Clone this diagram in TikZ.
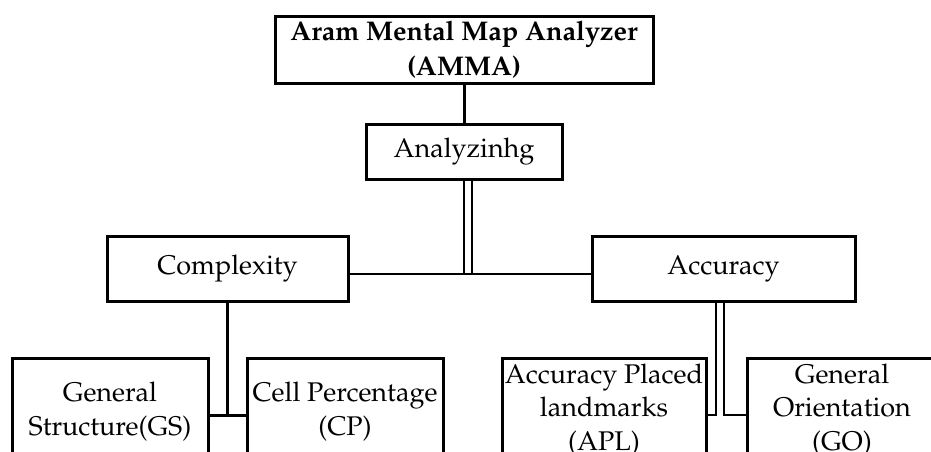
\documentclass[tikz,border=0pt]{standalone}
\usepackage[T1]{fontenc}
\usepackage{mathpazo}
\usetikzlibrary{positioning}

\begin{document}
\begin{tikzpicture}[x=0.5pt,y=-0.5pt,
  box/.style={draw,line width=1.5pt,inner sep=0pt,align=center,
    font=\fontsize{13.5}{17.5}\selectfont},
  leaf/.style={box,minimum height=57pt,font=\fontsize{13.5}{16.8}\selectfont},
  link/.style={line width=1.5pt},
  strand/.style={line width=1pt}]
\useasboundingbox (0,0) rectangle (931,451);
\clip (0,0) rectangle (931,451);

\node[box,minimum width=189pt,minimum height=33.5pt,
  font=\fontsize{13.5}{17.5}\selectfont\bfseries] (amma) at (464,49.5)
  {Aram Mental Map Analyzer\\(AMMA)};
\node[box,minimum width=98pt,minimum height=27.5pt] (anal) at (464,151.5) {Analyzinhg};
\node[box,minimum width=120.5pt,minimum height=32.5pt] (comp) at (227.5,268.5) {Complexity};
\node[box,minimum width=131.5pt,minimum height=32.5pt] (acc) at (723.5,268.5) {Accuracy};

\node[leaf,minimum width=98pt,text depth=6.5pt] (gs) at (110,415) {General\\Structure(GS)};
\node[leaf,minimum width=98pt,text depth=6.5pt] (cp) at (345,415) {Cell Percentage\\(CP)};
\node[leaf,minimum width=102pt,text depth=8pt] (apl) at (604,415) {Accuracy Placed\\landmarks\\(APL)};
\node[leaf,minimum width=95pt,text depth=8pt] (go) at (842,415) {General\\Orientation\\(GO)};

\coordinate (split) at ([yshift=-2.75pt]comp.east);

\draw[link] (amma) -- (anal);
\draw[strand] (split) -- ([yshift=-2.75pt]acc.west);
\draw[strand] (anal.south) -- (anal.south |- split);
\draw[strand] ([xshift=4pt]anal.south) -- ([xshift=4pt]anal.south |- split);

\draw[link] (comp.south) -- (comp.south |- gs.east);
\draw[link] (gs.east) -- (cp.west);

\draw[strand] ([xshift=-4pt]acc.south) |- (apl.east);
\draw[strand] (acc.south) |- (go.west);
\end{tikzpicture}
\end{document}
